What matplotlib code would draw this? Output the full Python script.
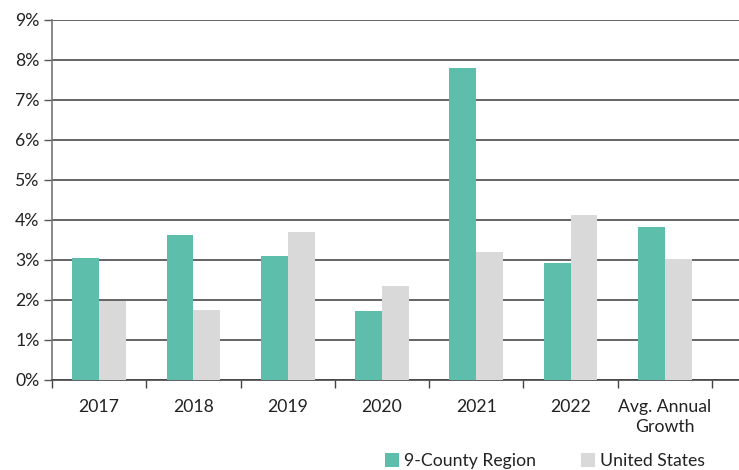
import matplotlib
matplotlib.use("Agg")
import matplotlib.pyplot as plt
import numpy as np

plt.rcParams['font.family'] = ['Lato', 'DejaVu Sans']

categories = ["2017", "2018", "2019", "2020", "2021", "2022", "Avg. Annual\nGrowth"]
region = [3.05, 3.61, 3.10, 1.72, 7.80, 2.91, 3.81]
us = [1.96, 1.73, 3.70, 2.35, 3.18, 4.11, 3.01]

GREEN = "#5DBFAB"
GREY = "#D9D9D9"

fig = plt.figure(figsize=(7.39, 4.70), dpi=100)
ax = fig.add_axes([52 / 739, 1 - 379.5 / 470, 1 - 52 / 739, (379.5 - 19.7) / 470])

x = np.arange(len(categories))
w = 0.285
ax.bar(x - w / 2, region, w, color=GREEN, label="9-County Region", zorder=3)
ax.bar(x + w / 2, us, w, color=GREY, label="United States", zorder=3)

ax.set_ylim(0, 9)
ax.set_yticks(range(10))
ax.set_yticklabels([f"{i}%" for i in range(10)])
ax.set_xlim(-0.5, 6.5 + 27 / 94.3)

# labels centred, ticks on category boundaries
ax.set_xticks(x)
ax.set_xticklabels(categories, linespacing=1.3, va="top")
ax.set_xticks(np.arange(len(categories) + 1) - 0.5, minor=True)
ax.tick_params(axis="x", which="major", length=0, pad=14, labelsize=12.7, colors="#222222")
ax.tick_params(axis="x", which="minor", length=6, width=1, color="#444444", direction="out")
ax.tick_params(axis="y", length=6, width=1, color="#555555", labelsize=12.7, labelcolor="#222222", pad=3)

ax.grid(axis="y", color="#3a3a3a", linewidth=1.1, zorder=0)
for s in ["top", "right"]:
    ax.spines[s].set_visible(False)
ax.spines["left"].set_color("#777777")
ax.spines["left"].set_linewidth(1.2)
ax.spines["bottom"].set_color("#444444")
ax.spines["bottom"].set_linewidth(1.2)

leg = fig.legend(loc="center", bbox_to_anchor=(545 / 739, 1 - 461 / 470), ncol=2, frameon=False,
                 fontsize=12.7, handlelength=0.8, handleheight=0.8, handletextpad=0.3, columnspacing=2.5)
for t in leg.get_texts():
    t.set_color("#222222")

fig.savefig("out.png", dpi=100)
